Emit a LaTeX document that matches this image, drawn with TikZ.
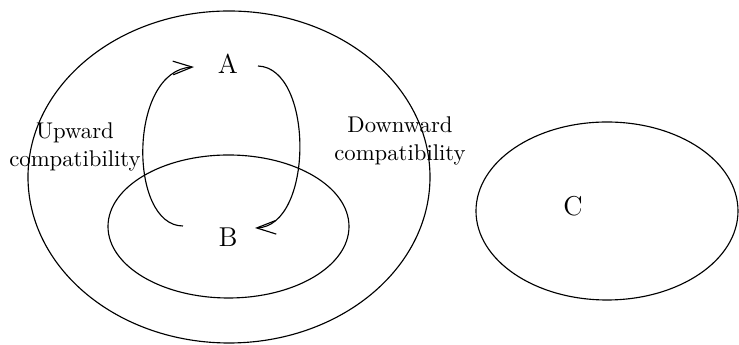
\documentclass[tikz,border=0pt]{standalone}
\usetikzlibrary{arrows.meta}
\begin{document}
\begin{tikzpicture}[x=0.44pt,y=-0.44pt,
  ring/.style={draw,line width=0.5pt},
  link/.style={draw,line width=0.5pt,-{Straight Barb[length=8.5pt,width=6pt,line width=0.5pt]}},
  lbl/.style={align=center,inner sep=0pt,font=\normalsize},
  big/.style={inner sep=0pt,font=\large}]
\useasboundingbox (0,0) rectangle (739,345);
\draw[ring] (229,177) ellipse [x radius=201,y radius=166];
\draw[ring] (228.5,226.5) ellipse [x radius=120.5,y radius=71.5];
\draw[ring] (607,211) ellipse [x radius=131,y radius=89];
\node[big] (A) at (228,64) {A};
\node[big] (B) at (228,237) {B};
\node[big] (C) at (573,206) {C};
\node[lbl] (up) at (75,147) {Upward\\compatibility};
\node[lbl] (down) at (400,141) {Downward\\compatibility};
\coordinate (l0) at (183,226);
\coordinate (l1) at (194,67);
\coordinate (r0) at (258,66);
\coordinate (r1) at (255,228);
\draw[link] (l0) .. controls (128,226) and (128,70) .. (l1);
\draw[link] (r0) .. controls (314,68) and (314,226) .. (r1);
\end{tikzpicture}
\end{document}
